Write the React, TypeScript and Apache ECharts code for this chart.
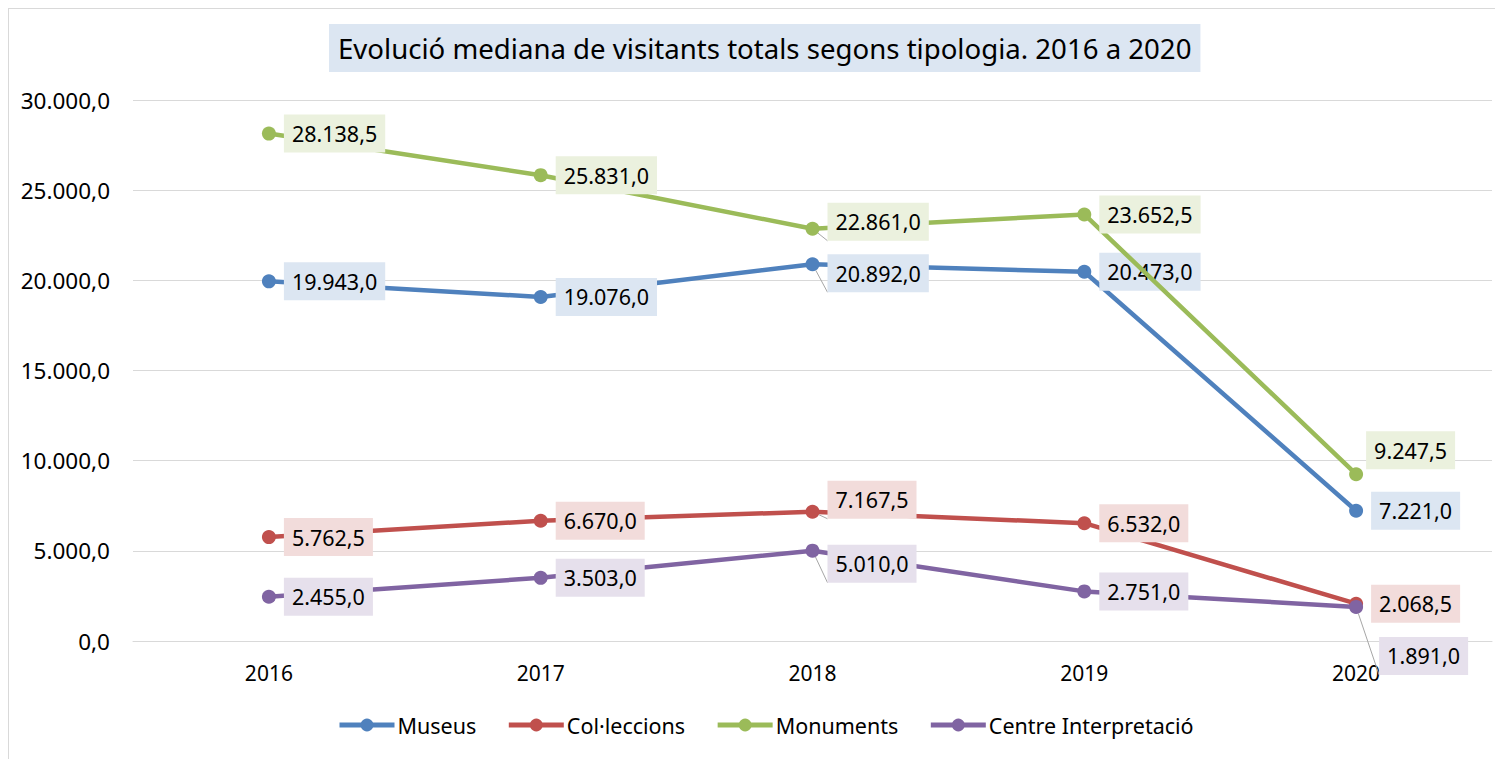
import React, { useEffect, useRef } from "react";
import * as echarts from "echarts";

const titleText = "Evolució mediana de visitants totals segons tipologia. 2016 a 2020";
const years = ["2016", "2017", "2018", "2019", "2020"];
const seriesNames = ["Museus", "Col·leccions", "Monuments", "Centre Interpretació"];
const museus = [19943.0, 19076.0, 20892.0, 20473.0, 7221.0];
const colleccions = [5762.5, 6670.0, 7167.5, 6532.0, 2068.5];
const monuments = [28138.5, 25831.0, 22861.0, 23652.5, 9247.5];
const centreInterp = [2455.0, 3503.0, 5010.0, 2751.0, 1891.0];
const yMin = 0;
const yMax = 30000;
const yInterval = 5000;

const lineColors = ["#4F81BD", "#C0504D", "#9BBB59", "#8064A2"];
const labelBg = ["#DCE6F2", "#F2DCDB", "#EBF1DE", "#E6E0EC"];
// per-point label offsets [dx, dy] (style only)
const labelOffsets: Array<Array<[number, number]>> = [
  [[0, 0], [0, 0], [0, 9], [0, 0], [0, 0]],
  [[0, 0], [0, 0], [0, -12], [0, 0], [0, 0]],
  [[0, 0], [0, 0], [0, -7], [0, 0], [-5, -24]],
  [[0, 0], [0, 0], [0, 13], [0, 0], [8, 49]],
];
const leader: boolean[][] = [
  [false, false, true, false, false],
  [false, false, true, false, false],
  [false, false, true, false, false],
  [false, false, true, false, true],
];

const FONT = "'Noto Sans', 'Open Sans', sans-serif";

function fmt(v: number): string {
  const s = Math.abs(v).toFixed(1);
  const [i, d] = s.split(".");
  return (v < 0 ? "-" : "") + i.replace(/\B(?=(\d{3})+(?!\d))/g, ".") + "," + d;
}

export default function App() {
  const ref = useRef<HTMLDivElement>(null);
  useEffect(() => {
    if (!ref.current) return;
    const chart = echarts.init(ref.current, null, { renderer: "svg" });
    const allData = [museus, colleccions, monuments, centreInterp];
    const series = allData.map((arr, si) => ({
      name: seriesNames[si],
      type: "line",
      data: arr.map((v, di) => {
        const item: any = { value: v };
        const off = labelOffsets[si][di];
        if (off[0] !== 0 || off[1] !== 0) {
          item.label = { offset: off };
        }
        if (leader[si][di]) {
          item.labelLine = { show: true, lineStyle: { color: "#A6A6A6", width: 1 } };
        }
        return item;
      }),
      symbol: "circle",
      symbolSize: 14,
      lineStyle: { width: 4.5, color: lineColors[si] },
      itemStyle: { color: lineColors[si] },
      label: {
        show: true,
        position: "right",
        distance: 8,
        formatter: (p: any) => fmt(p.value),
        backgroundColor: labelBg[si],
        padding: [7, 8, 7, 8],
        fontFamily: FONT,
        fontSize: 21.5,
        lineHeight: 24,
        color: "#000",
      },
      z: 2 + si,
    }));

    chart.setOption({
      animation: false,
      title: {
        text: titleText,
        left: 320,
        top: 15,
        padding: [9, 9, 9, 9],
        backgroundColor: "#DCE6F2",
        textStyle: {
          fontFamily: FONT,
          fontSize: 27.6,
          lineHeight: 30,
          fontWeight: "normal",
          color: "#000",
        },
      },
      grid: { left: 124, right: 11, top: 91, bottom: 118, containLabel: false },
      legend: {
        data: seriesNames,
        left: 323,
        top: 700,
        itemWidth: 55,
        itemHeight: 16,
        itemGap: 30,
        lineStyle: { width: 5 },
        textStyle: { fontFamily: FONT, fontSize: 21.5, color: "#000", padding: [0, 0, 0, -2] },
      },
      xAxis: {
        type: "category",
        data: years,
        boundaryGap: true,
        axisLine: { show: true, lineStyle: { color: "#D9D9D9", width: 1 } },
        axisTick: { show: false },
        axisLabel: { fontFamily: FONT, fontSize: 21, color: "#000", margin: 21 },
      },
      yAxis: {
        type: "value",
        min: yMin,
        max: yMax,
        interval: yInterval,
        axisLine: { show: false },
        axisTick: { show: false },
        splitLine: { lineStyle: { color: "#D9D9D9", width: 1 } },
        axisLabel: {
          fontFamily: FONT,
          fontSize: 22.5,
          color: "#000",
          margin: 23,
          formatter: (v: number) => fmt(v),
        },
      },
      series,
    });
    return () => chart.dispose();
  }, []);
  return (
    <div style={{ borderLeft: "1px solid #D9D9D9", borderTop: "1px solid #D9D9D9", width: 1495, height: 751, boxSizing: "border-box", overflow: "hidden" }}>
      <div ref={ref} style={{ width: 1494, height: 750 }} />
    </div>
  );
}
